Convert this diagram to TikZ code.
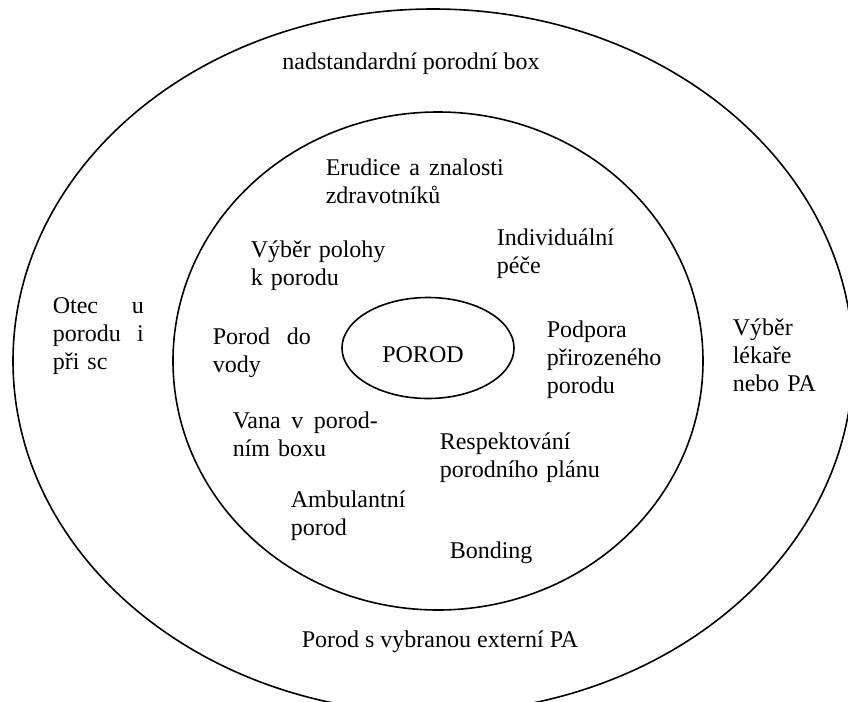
\documentclass[tikz,border=0pt]{standalone}
\usepackage{fontspec}
\setmainfont{Liberation Serif}
\usepackage{tikz}
\usetikzlibrary{shapes.geometric}

\begin{document}

\begin{tikzpicture}[x=0.5pt, y=-0.5pt, line width=0.8pt,
  lbl/.style={inner sep=0pt, font=\fontsize{12}{14}\selectfont},
  txt/.style={lbl, anchor=base west, align=left, text width=#1},
  txt/.default=150pt]

\useasboundingbox (0,0) rectangle (848,702);
\clip (0,0) rectangle (848,702);

\begin{scope}

\draw (433,361) ellipse [x radius=420, y radius=352];

\draw (438,361) ellipse [x radius=265, y radius=249];

\node[draw, ellipse, minimum width=86pt, minimum height=50.5pt, inner sep=0pt] (porod) at (428,348) {};
\node[lbl] (porodtxt) at (423,355) {POROD};

\end{scope}


{
\node[lbl, anchor=base] (box) at (411,69) {nadstandardní porodní box};

\node[lbl, anchor=base] (externi) at (440,647) {Porod s vybranou externí PA};

\node[txt=45.5pt] (otec) at (52,313) {Otec\hfill u\\porodu\hfill i\\při sc};

\node[txt] (lekar) at (732,335) {Výběr\\lékaře\\nebo PA};
}


{
\node[txt=89pt] (erudice) at (325,175) {Erudice\hfill a\hfill znalosti\\zdravotníků};

\node[txt] (poloha) at (250,257) {Výběr polohy\\k porodu};

\node[txt] (pece) at (496,245) {Individuální\\péče};

\node[txt=49pt] (voda) at (212,344) {Porod\hfill do\\vody};

\node[txt] (podpora) at (546,337) {Podpora\\přirozeného\\porodu};

\node[txt=72.5pt] (vana) at (232,428) {Vana\hfill v\hfill porod-\\ním boxu};

\node[txt] (plan) at (439,449) {Respektování\\porodního plánu};

\node[txt] (ambulance) at (290,507) {Ambulantní\\porod};

\node[txt] (bonding) at (449,558) {Bonding};
}

\end{tikzpicture}

\end{document}
